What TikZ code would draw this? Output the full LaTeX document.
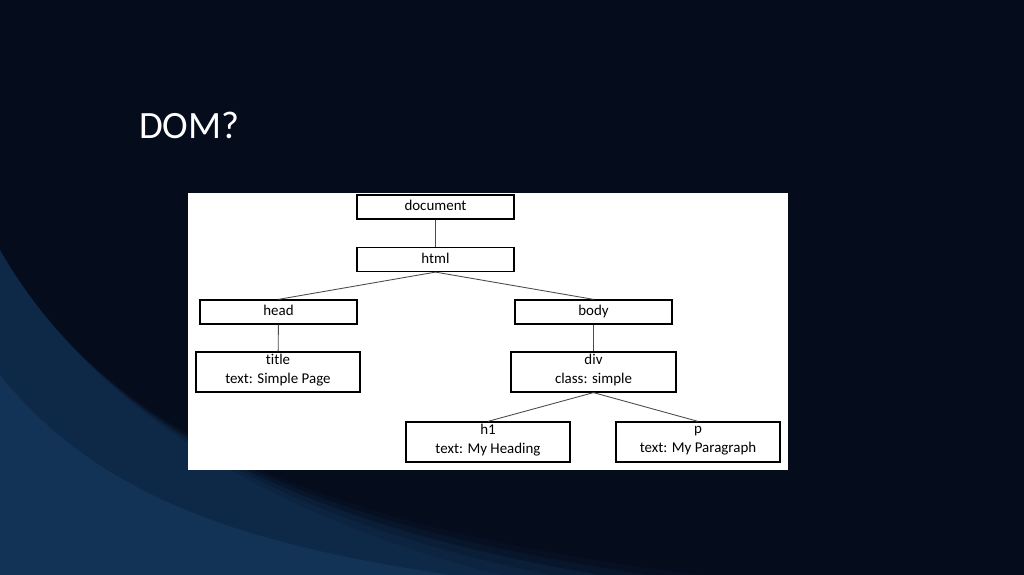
\documentclass[tikz,border=0pt]{standalone}
\usepackage{fontspec}
\setmainfont{Carlito}[Ligatures={NoCommon}]
\usetikzlibrary{positioning}
\definecolor{slidebg}{HTML}{050C1C}
\definecolor{swoosh}{HTML}{2F7FC8}
\tikzset{
    box/.style={
           rectangle,
           draw=black, line width=0.7pt,
           fill=white,
           minimum width=3.14cm,
           minimum height=0.48cm,
           inner sep=0pt,
           font=\fontsize{8.5}{11}\selectfont,
           execute at begin node=\strut,
           execute at end node=\strut,
           align=center,
           text centered},
    bigbox/.style={
           box,
           minimum width=3.28cm,
           minimum height=0.8cm},
    link/.style={
           draw=black!70,
           line width=0.5pt}
}
\begin{document}
\begin{tikzpicture}
    \useasboundingbox (0,0) rectangle (20.48,11.5);
    \fill[slidebg] (0,0) rectangle (20.48,11.5);
    % swooshes
    \foreach \r/\o in {14/0.04,13/0.06,12/0.08,11/0.07,10/0.05}{
        \fill[swoosh, opacity=\o] (0,0) -- (0,6.5) .. controls (2,3) and (6,1) .. (\r,0) -- cycle;
    }
    \fill[swoosh, opacity=0.12] (0,0) -- (0,4) .. controls (2,1.5) and (5,0.6) .. (9,0) -- cycle;
    \node[anchor=west, text=white, font=\fontsize{22}{26}\selectfont] (heading) at (2.66,9.0) {DOM?};
    \fill[white] (3.76,2.10) rectangle (15.76,7.64);

    \node[box] (doc) at (8.71,7.36) {document};
    \node[box] (html) at (8.71,6.31) {html};
    \node[box] (head) at (5.57,5.26) {head};
    \node[box] (body) at (11.87,5.26) {body};
    \node[bigbox] (title) at (5.56,4.06) {title\\text: Simple Page};
    \node[bigbox, minimum width=3.30cm] (div) at (11.87,4.06) {div\\class: simple};
    \node[bigbox] (h1) at (9.76,2.66) {h1\\text: My Heading};
    \node[bigbox] (p) at (13.96,2.66) {p\\text: My Paragraph};

    \draw[link] (doc) -- (html);
    \draw[link] (html.south) -- (head.north);
    \draw[link] (html.south) -- (body.north);
    \draw[link] (head) -- (title);
    \draw[link] (body) -- (div);
    \draw[link] (div.south) -- (h1.north);
    \draw[link] (div.south) -- (p.north);
\end{tikzpicture}
\end{document}
